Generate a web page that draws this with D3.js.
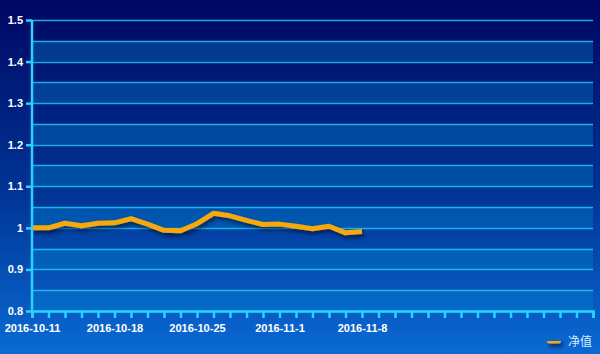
<!DOCTYPE html>
<html>
<head>
<meta charset="utf-8">
<script src="https://cdn.jsdelivr.net/npm/d3@7"></script>
<style>
  html, body { margin: 0; padding: 0; background: #000866; }
  svg { display: block; }
</style>
</head>
<body>
<svg id="NavChart"></svg>
<script>
// trading days shown on the axis, trailing slots are empty
let dates = ["2016-10-11", "2016-10-12", "2016-10-13", "2016-10-14", "2016-10-17",
  "2016-10-18", "2016-10-19", "2016-10-20", "2016-10-21", "2016-10-24",
  "2016-10-25", "2016-10-26", "2016-10-27", "2016-10-28", "2016-10-31",
  "2016-11-1", "2016-11-2", "2016-11-3", "2016-11-4", "2016-11-7",
  "2016-11-8", "", "", "", "", "", "", "", "", "", "", "", "", "", ""];
let navValues = [1.000, 1.000, 1.011, 1.005, 1.011, 1.012, 1.022, 1.009, 0.994, 0.993,
  1.010, 1.035, 1.029, 1.018, 1.008, 1.009, 1.004, 0.998, 1.004, 0.988, 0.991];
let yTicks = [0.8, 0.9, 1, 1.1, 1.2, 1.3, 1.4, 1.5];
let seriesName = "净值";

function getConfig() {
  let width = 600;
  let height = 354;
  let margin = { top: 20, bottom: 43, left: 32, right: 7 };
  let bodyWidth = width - margin.left - margin.right;
  let bodyHeight = height - margin.top - margin.bottom;
  let container = d3.select("#NavChart")
    .attr("width", width)
    .attr("height", height);
  return { width, height, margin, bodyWidth, bodyHeight, container };
}

function getScales(config) {
  let { bodyWidth, bodyHeight } = config;
  let xScale = d3.scalePoint()
    .domain(d3.range(dates.length))
    .range([0, bodyWidth]);
  let yScale = d3.scaleLinear()
    .domain([0.8, 1.5])
    .range([bodyHeight, 0]);
  return { xScale, yScale };
}

function drawBackground(config) {
  let { width, height, container } = config;
  let defs = container.append("defs");
  let grad = defs.append("linearGradient")
    .attr("id", "bg").attr("x1", 0).attr("y1", 0).attr("x2", 0).attr("y2", 1);
  grad.append("stop").attr("offset", "0%").attr("stop-color", "#000762");
  grad.append("stop").attr("offset", "55%").attr("stop-color", "#003596");
  grad.append("stop").attr("offset", "100%").attr("stop-color", "#0a6ad4");

  let shadow = defs.append("filter").attr("id", "shadow")
    .attr("filterUnits", "userSpaceOnUse")
    .attr("x", 0).attr("y", 0).attr("width", width).attr("height", height);
  shadow.append("feDropShadow")
    .attr("dx", 2).attr("dy", 3).attr("stdDeviation", 2)
    .attr("flood-color", "#000022").attr("flood-opacity", 0.6);

  container.append("rect")
    .attr("width", width).attr("height", height)
    .attr("fill", "url(#bg)");
}

function drawGrid(scales, config) {
  let { margin, bodyWidth, container } = config;
  let { yScale } = scales;
  let body = container.append("g")
    .attr("transform", `translate(${margin.left},${margin.top})`);

  // lighter bands between x.x5 and x.x0
  let bandTops = d3.range(0, 7).map(i => 0.85 + i * 0.1);
  body.selectAll(".band").data(bandTops)
    .enter()
    .append("rect")
    .attr("x", 0)
    .attr("width", bodyWidth)
    .attr("y", d => yScale(d))
    .attr("height", d => yScale(d - 0.05) - yScale(d))
    .attr("fill", "rgb(0,140,210)")
    .attr("opacity", 0.33);

  let lines = d3.range(0, 15).map(i => 0.8 + i * 0.05);
  body.selectAll(".grid").data(lines)
    .enter()
    .append("line")
    .attr("x1", 0).attr("x2", bodyWidth)
    .attr("y1", d => Math.round(yScale(d)) + 0.5)
    .attr("y2", d => Math.round(yScale(d)) + 0.5)
    .attr("stroke", "#22c4f6")
    .attr("stroke-opacity", 0.85)
    .attr("stroke-width", 1.5);
}

function drawAxes(scales, config) {
  let { container, margin, height, bodyHeight } = config;
  let { xScale, yScale } = scales;

  let axisX = d3.axisBottom(xScale)
    .tickSize(7)
    .tickPadding(4)
    .tickFormat(i => (i % 5 === 0 ? dates[i] : ""));
  let gX = container.append("g")
    .attr("transform", `translate(${margin.left},${height - margin.bottom})`)
    .call(axisX);

  let axisY = d3.axisLeft(yScale)
    .tickValues(yTicks)
    .tickSize(6)
    .tickPadding(3)
    .tickFormat(d3.format("~g"));
  let gY = container.append("g")
    .attr("transform", `translate(${margin.left},${margin.top})`)
    .call(axisY);

  [gX, gY].forEach(g => {
    g.select(".domain").attr("stroke", "#2ad2ff").attr("stroke-width", 2.5);
    g.selectAll(".tick line").attr("stroke", "#2ad2ff").attr("stroke-width", 2.5);
    g.selectAll("text")
      .attr("fill", "#ffffff")
      .style("font-family", "'Liberation Sans', Arial, sans-serif")
      .style("font-weight", "bold")
      .style("font-size", "11px");
  });
  gY.select(".domain").attr("d", `M0,0V${bodyHeight}`);
  gX.selectAll(".tick text").attr("dy", "0.95em");

  return { gX, gY };
}

function drawLine(scales, config) {
  let { margin, container } = config;
  let { xScale, yScale } = scales;
  let body = container.append("g")
    .attr("transform", `translate(${margin.left},${margin.top})`);

  let line = d3.line()
    .x((d, i) => xScale(i))
    .y(d => yScale(d));

  body.append("path")
    .datum(navValues)
    .attr("d", line)
    .attr("fill", "none")
    .attr("stroke", "#f5a90a")
    .attr("stroke-width", 5)
    .attr("stroke-linejoin", "round")
    .attr("filter", "url(#shadow)");
}

function drawLegend(config) {
  let { container } = config;
  let legend = container.append("g").attr("transform", "translate(547,341)");
  legend.append("rect")
    .attr("x", 0).attr("y", -2.5)
    .attr("width", 14).attr("height", 5)
    .attr("rx", 2.5)
    .attr("fill", "#f5a90a")
    .attr("filter", "url(#shadow)");
  legend.append("text")
    .attr("x", 21).attr("y", 4.5)
    .attr("fill", "#d8ecff")
    .style("font-family", "'Noto Sans CJK SC', sans-serif")
    .style("font-size", "12px")
    .text(seriesName);
}

let config = getConfig();
let scales = getScales(config);
drawBackground(config);
drawGrid(scales, config);
drawLine(scales, config);
drawAxes(scales, config);
drawLegend(config);
</script>
</body>
</html>
